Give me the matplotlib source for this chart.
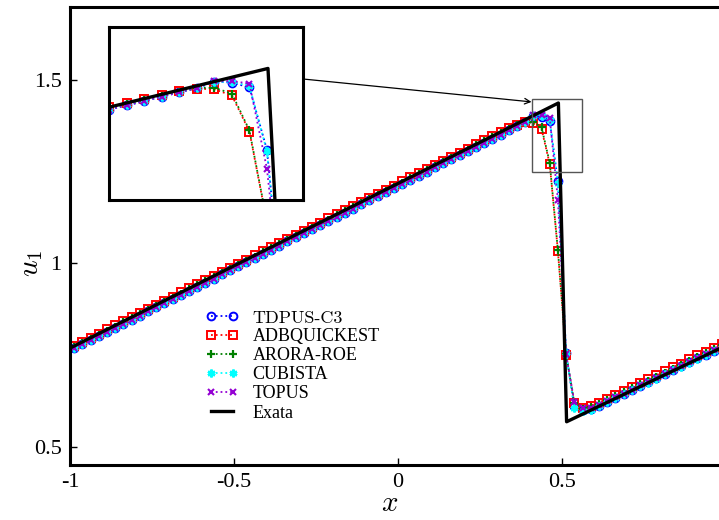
import matplotlib
matplotlib.use("Agg")
import matplotlib.pyplot as plt
from matplotlib.patches import Rectangle

plt.rcParams["font.family"] = ["Liberation Serif", "DejaVu Serif"]
plt.rcParams["mathtext.fontset"] = "cm"

# Cell centres of the 80-cell mesh on [-1, 1]
x_cells = [
    -0.9875, -0.9625, -0.9375, -0.9125, -0.8875, -0.8625, -0.8375, -0.8125, -0.7875, -0.7625,
    -0.7375, -0.7125, -0.6875, -0.6625, -0.6375, -0.6125, -0.5875, -0.5625, -0.5375, -0.5125,
    -0.4875, -0.4625, -0.4375, -0.4125, -0.3875, -0.3625, -0.3375, -0.3125, -0.2875, -0.2625,
    -0.2375, -0.2125, -0.1875, -0.1625, -0.1375, -0.1125, -0.0875, -0.0625, -0.0375, -0.0125,
    0.0125, 0.0375, 0.0625, 0.0875, 0.1125, 0.1375, 0.1625, 0.1875, 0.2125, 0.2375,
    0.2625, 0.2875, 0.3125, 0.3375, 0.3625, 0.3875, 0.4125, 0.4375, 0.4625, 0.4875,
    0.5125, 0.5375, 0.5625, 0.5875, 0.6125, 0.6375, 0.6625, 0.6875, 0.7125, 0.7375,
    0.7625, 0.7875, 0.8125, 0.8375, 0.8625, 0.8875, 0.9125, 0.9375, 0.9625, 0.9875,
]

u_tdpus = [
    0.769, 0.780, 0.791, 0.802, 0.814, 0.825, 0.836, 0.847, 0.858, 0.870,
    0.881, 0.892, 0.903, 0.915, 0.926, 0.937, 0.948, 0.959, 0.971, 0.982,
    0.993, 1.004, 1.016, 1.027, 1.038, 1.049, 1.060, 1.072, 1.083, 1.094,
    1.105, 1.117, 1.128, 1.139, 1.150, 1.161, 1.173, 1.184, 1.195, 1.206,
    1.218, 1.229, 1.240, 1.251, 1.262, 1.274, 1.285, 1.296, 1.307, 1.319,
    1.330, 1.341, 1.352, 1.364, 1.375, 1.386, 1.403, 1.401, 1.388, 1.224,
    0.755, 0.610, 0.600, 0.602, 0.612, 0.623, 0.634, 0.644, 0.655, 0.666,
    0.676, 0.687, 0.698, 0.709, 0.719, 0.730, 0.741, 0.751, 0.762, 0.773,
]

u_adbquickest = [
    0.775, 0.786, 0.797, 0.808, 0.820, 0.831, 0.842, 0.853, 0.864, 0.876,
    0.887, 0.898, 0.909, 0.921, 0.932, 0.943, 0.954, 0.965, 0.977, 0.988,
    0.999, 1.010, 1.022, 1.033, 1.044, 1.055, 1.066, 1.078, 1.089, 1.100,
    1.111, 1.123, 1.134, 1.145, 1.156, 1.167, 1.179, 1.190, 1.201, 1.212,
    1.224, 1.235, 1.246, 1.257, 1.268, 1.280, 1.291, 1.302, 1.313, 1.325,
    1.336, 1.347, 1.358, 1.369, 1.378, 1.385, 1.383, 1.367, 1.272, 1.034,
    0.750, 0.618, 0.605, 0.612, 0.620, 0.631, 0.642, 0.652, 0.663, 0.674,
    0.684, 0.695, 0.706, 0.717, 0.727, 0.738, 0.749, 0.759, 0.770, 0.781,
]

u_arora_roe = [
    0.772, 0.783, 0.794, 0.805, 0.817, 0.828, 0.839, 0.850, 0.861, 0.873,
    0.884, 0.895, 0.906, 0.918, 0.929, 0.940, 0.951, 0.962, 0.974, 0.985,
    0.996, 1.007, 1.019, 1.030, 1.041, 1.052, 1.063, 1.075, 1.086, 1.097,
    1.108, 1.120, 1.131, 1.142, 1.153, 1.164, 1.176, 1.187, 1.198, 1.209,
    1.221, 1.232, 1.243, 1.254, 1.265, 1.277, 1.288, 1.299, 1.310, 1.322,
    1.333, 1.344, 1.355, 1.366, 1.377, 1.387, 1.387, 1.372, 1.275, 1.036,
    0.752, 0.620, 0.604, 0.608, 0.616, 0.627, 0.638, 0.648, 0.659, 0.670,
    0.680, 0.691, 0.702, 0.713, 0.723, 0.734, 0.745, 0.755, 0.766, 0.777,
]

u_cubista = [
    0.769, 0.780, 0.791, 0.802, 0.814, 0.825, 0.836, 0.847, 0.858, 0.870,
    0.881, 0.892, 0.903, 0.915, 0.926, 0.937, 0.948, 0.959, 0.971, 0.982,
    0.993, 1.004, 1.016, 1.027, 1.038, 1.049, 1.060, 1.072, 1.083, 1.094,
    1.105, 1.117, 1.128, 1.139, 1.150, 1.161, 1.173, 1.184, 1.195, 1.206,
    1.218, 1.229, 1.240, 1.251, 1.262, 1.274, 1.285, 1.296, 1.307, 1.319,
    1.330, 1.341, 1.352, 1.364, 1.375, 1.387, 1.402, 1.403, 1.392, 1.220,
    0.755, 0.605, 0.597, 0.601, 0.611, 0.622, 0.633, 0.643, 0.654, 0.665,
    0.675, 0.686, 0.697, 0.708, 0.718, 0.729, 0.740, 0.750, 0.761, 0.772,
]

u_topus = [
    0.769, 0.780, 0.791, 0.802, 0.814, 0.825, 0.836, 0.847, 0.858, 0.870,
    0.881, 0.892, 0.903, 0.915, 0.926, 0.937, 0.948, 0.959, 0.971, 0.982,
    0.993, 1.004, 1.016, 1.027, 1.038, 1.049, 1.060, 1.072, 1.083, 1.094,
    1.105, 1.117, 1.128, 1.139, 1.150, 1.161, 1.173, 1.184, 1.195, 1.206,
    1.218, 1.229, 1.240, 1.251, 1.262, 1.274, 1.285, 1.296, 1.307, 1.319,
    1.330, 1.341, 1.352, 1.364, 1.375, 1.387, 1.404, 1.405, 1.398, 1.174,
    0.752, 0.623, 0.606, 0.605, 0.613, 0.624, 0.635, 0.645, 0.656, 0.667,
    0.677, 0.688, 0.699, 0.710, 0.720, 0.731, 0.742, 0.752, 0.763, 0.774,
]

# Exact solution: linear ramp, shock, linear ramp
x_exact = [-1.0, 0.489, 0.514, 1.0]
u_exact = [0.769, 1.438, 0.568, 0.776]

series = [
    ("TDPUS-C3", u_tdpus, dict(color="#0000ff", marker="o", ms=5.6, mfc="none", mew=1.4)),
    ("ADBQUICKEST", u_adbquickest, dict(color="#ff0000", marker="s", ms=5.4, mfc="none", mew=1.4)),
    ("ARORA-ROE", u_arora_roe, dict(color="#008000", marker="+", ms=6, mew=1.6)),
    ("CUBISTA", u_cubista, dict(color="#00ffff", marker=(6, 2, 0), ms=5.6, mew=1.8)),
    ("TOPUS", u_topus, dict(color="#9400d3", marker="x", ms=4.2, mew=1.5)),
]

W, H = 719, 520
fig = plt.figure(figsize=(W / 100, H / 100), dpi=100)
ax = fig.add_axes([70 / W, 1 - 465 / H, 656 / W, 458 / H])


def draw(axis):
    for name, vals, style in series:
        axis.plot(x_cells, vals, linestyle=":", lw=1.3, label=name, **style)
    axis.plot(x_exact, u_exact, color="black", lw=2.4, label="Exata", zorder=5)


draw(ax)
ax.set_xlim(-1, 1)
ax.set_ylim(0.45, 1.7)
ax.set_xticks([-1, -0.5, 0, 0.5])
ax.set_xticklabels(["-1", "-0.5", "0", "0.5"])
ax.set_yticks([0.5, 1, 1.5])
ax.set_yticklabels(["0.5", "1", "1.5"])
ax.tick_params(direction="in", length=5, width=1, labelsize=16, pad=6)
for sp in ax.spines.values():
    sp.set_linewidth(2.2)

ax.set_xlabel("$x$", fontsize=21)
ax.xaxis.set_label_coords(0.487, -0.057)
ax.set_ylabel("$u_1$", fontsize=21, rotation=90)
ax.yaxis.set_label_coords(-0.038, 0.44)

leg = ax.legend(loc="upper left", bbox_to_anchor=(0.196, 0.354), frameon=False,
                fontsize=13, numpoints=2, handlelength=1.8, handletextpad=0.8,
                labelspacing=0.12, borderaxespad=0)
leg.get_texts()[0].set_fontfamily("cmr10")

# Zoom window on the shock and pointer to the magnified view
ax.add_patch(Rectangle((0.41, 1.25), 0.15, 0.20, fill=False, ec="#555555", lw=1.0, zorder=6))
ax.annotate("", xy=(0.407, 1.441), xycoords="data",
            xytext=(303 / W, 1 - 79 / H), textcoords="figure fraction",
            arrowprops=dict(arrowstyle="->", lw=0.9, color="black", shrinkA=0, shrinkB=0))

axin = fig.add_axes([109 / W, 1 - 200 / H, 194 / W, 173 / H])
draw(axin)
axin.set_xlim(0.262, 0.539)
axin.set_ylim(1.092, 1.547)
axin.set_xticks([])
axin.set_yticks([])
for sp in axin.spines.values():
    sp.set_linewidth(2.2)

fig.savefig("out.png", dpi=100)
